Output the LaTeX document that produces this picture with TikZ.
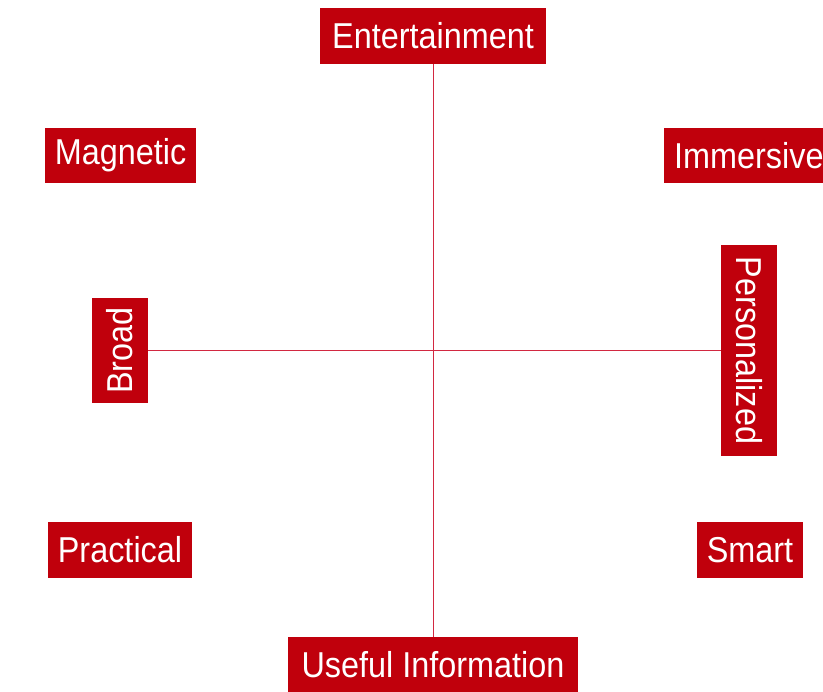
\documentclass[tikz,border=0pt]{standalone}
\usepackage{fontspec}
\setmainfont[FakeStretch=0.9]{Liberation Sans}
\definecolor{boxred}{RGB}{192,0,12}
\definecolor{linered}{RGB}{210,40,65}
\begin{document}
\begin{tikzpicture}[x=1pt,y=-1pt,
  lbl/.style={fill=boxred,text=white,inner sep=0pt,font=\fontsize{36}{36}\selectfont},
  axis/.style={draw=linered,line width=0.9pt}]
\useasboundingbox (0,0) rectangle (823,692);
\clip (0,0) rectangle (823,692);
\node[lbl,minimum width=226,minimum height=56] (ent) at (433,36) {Entertainment};
\node[lbl,minimum width=151,minimum height=55] (mag) at (120.5,155.5) {Magnetic};
\node[lbl,minimum width=180,minimum height=55,anchor=west,text width=170,align=left] (imm) at (664,155.5) {\hspace*{5pt}Immersive};
\node[lbl,minimum width=105,minimum height=56,rotate=90] (broad) at (120,350.5) {Broad};
\node[lbl,minimum width=211,minimum height=56,rotate=-90] (pers) at (749,350.5) {Personalized};
\node[lbl,minimum width=144,minimum height=56] (prac) at (120,550) {Practical};
\node[lbl,minimum width=106,minimum height=56] (smart) at (750,550) {Smart};
\node[lbl,minimum width=290,minimum height=56] (use) at (433,665) {Useful Information};
\draw[axis] (ent.south) -- (use.north);
\draw[axis] (broad.south) -- (pers.south);
\end{tikzpicture}
\end{document}
